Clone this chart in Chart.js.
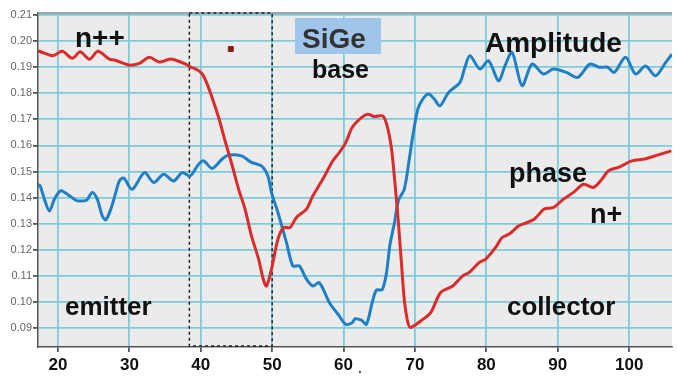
<!DOCTYPE html>
<html>
<head>
<meta charset="utf-8">
<script src="https://cdn.jsdelivr.net/npm/chart.js@4/dist/chart.umd.min.js"></script>
<style>
  html, body { margin: 0; padding: 0; background: #fff; }
  #wrap { width: 677px; height: 377px; position: relative; }
</style>
</head>
<body>
<div id="wrap"><canvas id="chart"></canvas></div>
<script>
// 축 눈금
const xTicks = [20, 30, 40, 50, 60, 70, 80, 90, 100];
const yTicks = [0.09, 0.10, 0.11, 0.12, 0.13, 0.14, 0.15, 0.16, 0.17, 0.18, 0.19, 0.20, 0.21];

// phase (빨강)
const phaseX = [17.2, 18.0, 19.3, 20.6, 22.0, 23.1, 24.4, 25.6, 27.2, 28.0, 29.2, 30.0, 31.4, 32.8, 34.2, 35.6, 36.5, 37.9,
  38.7, 39.3, 40.2, 40.9, 41.6, 42.5, 43.4, 44.35, 45.3, 46.2, 47.1, 48.1, 48.75, 49.2, 49.9, 50.8, 51.6, 52.5, 53.4,
  54.8, 55.7, 57.1, 58.5, 59.4, 60.3, 61.2, 62.5, 63.4, 64.3, 65.5, 66.1, 66.7, 67.1, 67.6, 68.1, 68.5, 69.0, 69.4,
  70.8, 72.2, 73.6, 75.3, 76.7, 77.6, 79.0, 79.9, 81.3, 82.2, 83.2, 84.5, 85.3, 86.7, 88.1, 89.4, 90.8, 92.2, 93.6,
  95.0, 96.2, 97.1, 98.5, 100.4, 102.2, 103.6, 105.9];
const phaseY = [0.1963, 0.1955, 0.1944, 0.1961, 0.1934, 0.1959, 0.1931, 0.1961, 0.1931, 0.1927, 0.1915, 0.1908, 0.1915,
  0.1938, 0.1920, 0.1931, 0.1927, 0.1912, 0.1899, 0.1893, 0.1874, 0.1835, 0.1782, 0.1707, 0.1618, 0.1528, 0.1432,
  0.1356, 0.1253, 0.1164, 0.1087, 0.1061, 0.1125, 0.1240, 0.1285, 0.1285, 0.1324, 0.1356, 0.1407, 0.1471, 0.1541,
  0.1573, 0.1611, 0.1669, 0.1707, 0.1720, 0.1711, 0.1713, 0.1675, 0.1590, 0.1483, 0.1330, 0.1151, 0.1010, 0.0921,
  0.0902, 0.0927, 0.0959, 0.1036, 0.1061, 0.1100, 0.1113, 0.1151, 0.1164, 0.1209, 0.1247, 0.1260, 0.1291, 0.1300,
  0.1317, 0.1356, 0.1362, 0.1394, 0.1420, 0.1451, 0.1439, 0.1471, 0.1503, 0.1516, 0.1541, 0.1548, 0.1560, 0.1579];

// amplitude (파랑)
const ampX = [17.2, 17.5, 18.1, 18.8, 19.5, 20.4, 21.6, 22.5, 23.0, 24.0, 24.8, 25.5, 26.2, 26.7, 27.4, 28.1, 28.6, 29.2,
  30.4, 32.1, 33.4, 34.8, 36.2, 37.4, 38.5, 39.7, 40.4, 41.6, 43.0, 43.9, 45.7, 47.1, 48.5, 49.4, 49.9, 50.8, 52.0,
  52.9, 53.8, 54.8, 55.7, 56.6, 58.0, 59.4, 60.3, 61.2, 61.6, 62.5, 63.2, 64.0, 64.6, 65.4, 66.0, 66.5, 67.1, 67.7,
  68.5, 69.2, 69.7, 70.4, 71.1, 71.9, 72.7, 73.5, 74.7, 76.3, 77.0, 77.7, 79.1, 80.3, 81.7, 82.6, 83.6, 85.0, 86.4,
  88.0, 89.4, 91.2, 92.8, 94.5, 95.8, 97.0, 97.9, 99.5, 100.9, 102.3, 103.7, 105.1, 106.0];
const ampY = [0.1450, 0.1445, 0.1394, 0.1349, 0.1394, 0.1426, 0.1407, 0.1390, 0.1387, 0.1390, 0.1420, 0.1394, 0.1330,
  0.1315, 0.1356, 0.1420, 0.1464, 0.1475, 0.1432, 0.1496, 0.1458, 0.1490, 0.1464, 0.1496, 0.1483, 0.1528, 0.1541,
  0.1512, 0.1548, 0.1563, 0.1560, 0.1535, 0.1522, 0.1483, 0.1420, 0.1343, 0.1228, 0.1138, 0.1138, 0.1087, 0.1061,
  0.1074, 0.0998, 0.0946, 0.0914, 0.0920, 0.0935, 0.0930, 0.0914, 0.0996, 0.1045, 0.1047, 0.1110, 0.1220, 0.1300,
  0.1390, 0.1432, 0.1547, 0.1637, 0.1739, 0.1778, 0.1797, 0.1778, 0.1752, 0.1803, 0.1842, 0.1900, 0.1944, 0.1893,
  0.1925, 0.1848, 0.1905, 0.1957, 0.1829, 0.1912, 0.1874, 0.1893, 0.1880, 0.1861, 0.1912, 0.1900, 0.1900, 0.1880,
  0.1938, 0.1874, 0.1905, 0.1867, 0.1918, 0.1950];

// 점선 영역과 작은 표식
const boxRange = [38.4, 50];
const markerX = [44.2];
const markerY = [0.197];

function toPoints(xs, ys) {
    return xs.map((x, i) => ({ x: x, y: ys[i] }));
}

const FONT = '"Liberation Sans", Arial, sans-serif';

// 차트 위 텍스트 (픽셀 위치)
const notes = [
    { text: 'n++', x: 75, y: 47, size: 28 },
    { text: 'base', x: 312, y: 78, size: 25 },
    { text: 'Amplitude', x: 485, y: 52, size: 28 },
    { text: 'phase', x: 509, y: 182, size: 27 },
    { text: 'n+', x: 590, y: 223, size: 27 },
    { text: 'emitter', x: 65, y: 315, size: 26 },
    { text: 'collector', x: 507, y: 315, size: 26 }
];

const decorPlugin = {
    id: 'decor',
    beforeDraw(chart) {
        const { ctx, chartArea: a } = chart;
        ctx.save();
        ctx.fillStyle = '#ebebeb';
        ctx.fillRect(a.left, a.top, a.right - a.left, a.bottom - a.top);
        ctx.restore();
    },
    beforeDatasetsDraw(chart) {
        const { ctx, chartArea: a, scales } = chart;
        ctx.save();
        // 위쪽 테두리
        ctx.strokeStyle = '#8a8a8a';
        ctx.lineWidth = 1.5;
        ctx.beginPath();
        ctx.moveTo(a.left, a.top);
        ctx.lineTo(a.right, a.top);
        ctx.stroke();
        // 점선 박스
        const x1 = scales.x.getPixelForValue(boxRange[0]);
        const x2 = scales.x.getPixelForValue(boxRange[1]);
        ctx.strokeStyle = '#222';
        ctx.lineWidth = 1.5;
        ctx.setLineDash([3, 3]);
        ctx.strokeRect(x1, a.top, x2 - x1, a.bottom - a.top - 1);
        ctx.restore();
    },
    afterDatasetsDraw(chart) {
        const { ctx } = chart;
        ctx.save();
        // SiGe 상자
        ctx.fillStyle = '#9fc6ea';
        ctx.fillRect(295, 18, 86, 36);
        ctx.fillStyle = '#333';
        ctx.font = 'bold 28px ' + FONT;
        ctx.textBaseline = 'alphabetic';
        ctx.fillText('SiGe', 302, 48);
        ctx.fillStyle = '#111';
        notes.forEach(n => {
            ctx.font = 'bold ' + n.size + 'px ' + FONT;
            ctx.fillText(n.text, n.x, n.y);
        });
        ctx.font = 'bold 14px ' + FONT;
        ctx.fillStyle = '#555';
        ctx.fillText('.', 358, 373);
        ctx.restore();
    }
};

const ctx = document.getElementById('chart').getContext('2d');
new Chart(ctx, {
    type: 'line',
    data: {
        datasets: [
            {
                label: 'marker',
                data: toPoints(markerX, markerY),
                showLine: false,
                pointStyle: 'rect',
                pointRadius: 3.5,
                backgroundColor: '#8b1c1c',
                borderColor: '#8b1c1c'
            },
            {
                label: 'phase',
                data: toPoints(phaseX, phaseY),
                borderColor: '#dc2b2b',
                borderWidth: 3,
                pointRadius: 0,
                tension: 0.3,
                fill: false
            },
            {
                label: 'Amplitude',
                data: toPoints(ampX, ampY),
                borderColor: '#1f80c4',
                borderWidth: 3,
                pointRadius: 0,
                tension: 0.3,
                fill: false
            }
        ]
    },
    options: {
        responsive: true,
        maintainAspectRatio: false,
        animation: false,
        layout: { padding: { top: 13, right: 0, left: 0, bottom: 0 } },
        plugins: {
            legend: { display: false },
            title: { display: false },
            tooltip: { enabled: false }
        },
        scales: {
            x: {
                type: 'linear',
                min: 17.2,
                max: 106,
                afterBuildTicks: s => { s.ticks = xTicks.map(v => ({ value: v })); },
                afterFit: s => { s.height = 30; },
                grid: { color: '#7fcbd9', lineWidth: 1.8, tickColor: '#555', tickLength: 5 },
                border: { display: true, color: '#555', width: 1.5 },
                ticks: {
                    color: '#111',
                    font: { family: FONT, size: 17, weight: 'bold' },
                    padding: 3,
                    maxRotation: 0,
                    autoSkip: false
                }
            },
            y: {
                min: 0.0827,
                max: 0.2108,
                afterBuildTicks: s => { s.ticks = yTicks.map(v => ({ value: v })); },
                afterFit: s => { s.width = 38; },
                grid: { color: '#7fcbd9', lineWidth: 1.8, tickColor: '#555', tickLength: 5 },
                border: { display: true, color: '#555', width: 1.5 },
                ticks: {
                    color: '#666',
                    font: { family: FONT, size: 11 },
                    padding: 1,
                    autoSkip: false,
                    callback: v => v.toFixed(2)
                }
            }
        }
    },
    plugins: [decorPlugin]
});
</script>
</body>
</html>
